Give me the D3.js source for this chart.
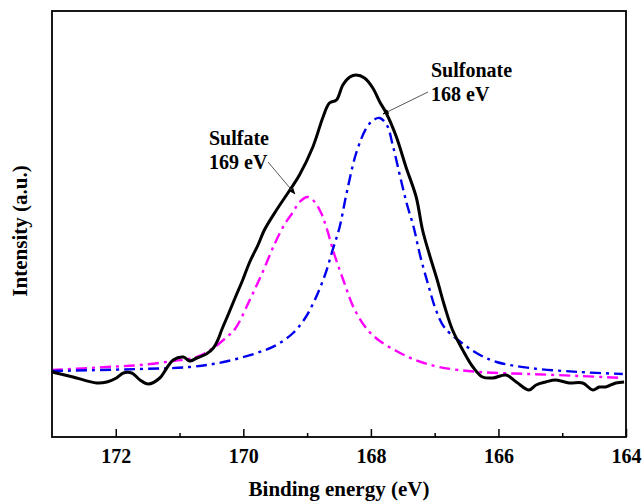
<!DOCTYPE html>
<html><head><meta charset="utf-8">
<script src="https://cdn.jsdelivr.net/npm/d3@7"></script>
<style>body{margin:0;background:#fff}svg{display:block}</style>
</head><body>
<script>
// Experimental spectrum (binding energy eV, intensity a.u.)
const expEnergy = [173.00,172.67,172.30,172.14,171.99,171.88,171.75,171.62,171.49,171.31,171.20,171.10,170.94,170.84,170.73,170.58,170.47,170.40,170.34,170.24,170.13,170.01,169.90,169.77,169.67,169.48,169.27,169.12,168.91,168.75,168.65,168.54,168.44,168.33,168.23,168.10,167.97,167.86,167.76,167.60,167.45,167.29,167.19,167.08,166.96,166.85,166.72,166.56,166.40,166.25,166.09,165.88,165.72,165.52,165.41,165.26,165.10,164.89,164.68,164.52,164.42,164.32,164.16,164.03];
const expIntensity = [64,59,53,54,58,63,63,56,52,58,68,76,79,75,78,82,88,96,106,121,138,156,174,191,206,226,246,261,289,319,333,336,351,359,361,358,348,334,323,299,269,239,206,181,156,131,106,86,69,59,58,61,54,46,51,54,56,53,53,46,49,49,53,54];
// Sulfate component (169 eV)
const sulfateEnergy = [173.00,172.14,171.62,171.10,170.73,170.47,170.26,170.13,169.90,169.71,169.51,169.35,169.22,169.12,168.99,168.88,168.78,168.70,168.57,168.41,168.26,168.05,167.86,167.60,167.34,166.93,166.30,165.52,164.73,164.05];
const sulfateIntensity = [66,69,71,75,79,88,99,107,136,162,192,212,224,234,239,234,223,209,181,152,127,106,95,85,77,69,64,62,60,58];
// Sulfonate component (168 eV)
const sulfonateEnergy = [173.00,171.62,170.84,170.31,169.79,169.48,169.22,169.03,168.88,168.72,168.60,168.49,168.38,168.23,168.07,167.96,167.86,167.75,167.65,167.54,167.44,167.33,167.23,167.10,166.98,166.84,166.55,166.29,166.03,165.51,164.73,164.05];
const sulfonateIntensity = [65,67,69,74,83,91,103,118,136,161,186,209,243,283,308,316,318,311,289,259,233,209,181,151,126,108,92,81,74,68,64,62];
const xTicks = [172,170,168,166,164];
const xMinorTicks = [171,169,167,165];

const W = 644, H = 501;
const svg = d3.select("body").append("svg").attr("width", W).attr("height", H);
const L = 52, R = 626, T = 11, B = 437;
const x = d3.scaleLinear().domain([173, 164]).range([L, R]);
const y = d3.scaleLinear().domain([-1, 425]).range([B, T]);

const font = "Liberation Serif, Times New Roman, serif";

const line = d3.line().x(d => x(d[0])).y(d => y(d[1])).curve(d3.curveCatmullRom.alpha(0.5));
const zip = (a, b) => a.map((v, i) => [v, b[i]]);

const g = svg.append("g");
g.append("path").datum(zip(sulfateEnergy, sulfateIntensity)).attr("d", line)
  .attr("fill", "none").attr("stroke", "#ff00ff").attr("stroke-width", 2.4)
  .attr("stroke-dasharray", "11,5,3,5");
g.append("path").datum(zip(sulfonateEnergy, sulfonateIntensity)).attr("d", line)
  .attr("fill", "none").attr("stroke", "#0000ee").attr("stroke-width", 2.4)
  .attr("stroke-dasharray", "11,5,3,5");
g.append("path").datum(zip(expEnergy, expIntensity)).attr("d", line)
  .attr("fill", "none").attr("stroke", "#000").attr("stroke-width", 3)
  .attr("stroke-linejoin", "round");

// frame
svg.append("rect").attr("x", L).attr("y", T).attr("width", R - L).attr("height", B - T)
  .attr("fill", "none").attr("stroke", "#000").attr("stroke-width", 1.8);

// x axis (ticks inward)
const xAxis = d3.axisTop(x).tickValues(xTicks).tickSize(8).tickFormat(d3.format("d"));
const ax = svg.append("g").attr("transform", `translate(0,${B})`).call(xAxis);
ax.select(".domain").remove();
ax.selectAll(".tick line").attr("stroke", "#000").attr("stroke-width", 1.5);
ax.selectAll(".tick text").attr("y", 26).attr("dy", 0)
  .attr("font-family", font).attr("font-weight", "bold").attr("font-size", 20).attr("fill", "#000");
const axm = svg.append("g").attr("transform", `translate(0,${B})`)
  .call(d3.axisTop(x).tickValues(xMinorTicks).tickSize(4).tickFormat(""));
axm.select(".domain").remove();
axm.selectAll(".tick line").attr("stroke", "#000").attr("stroke-width", 1.5);

// axis titles
svg.append("text").attr("x", 339).attr("y", 496).attr("text-anchor", "middle")
  .attr("font-family", font).attr("font-weight", "bold").attr("font-size", 21).text("Binding energy (eV)");
svg.append("text").attr("transform", "translate(27,231) rotate(-90)").attr("text-anchor", "middle")
  .attr("font-family", font).attr("font-weight", "bold").attr("font-size", 21).text("Intensity (a.u.)");

// annotations
const defs = svg.append("defs");
defs.append("marker").attr("id", "ah").attr("viewBox", "0 0 10 10").attr("refX", 9).attr("refY", 5)
  .attr("markerWidth", 7).attr("markerHeight", 7).attr("orient", "auto")
  .append("path").attr("d", "M0,1 L10,5 L0,9 Z").attr("fill", "#000");
const ann = [
  {lines: ["Sulfonate", "168 eV"], tx: 431, ty: 77, from: [428, 92], to: [383, 114]},
  {lines: ["Sulfate", "169 eV"], tx: 209, ty: 145, from: [268, 162], to: [295, 194]}
];
ann.forEach(a => {
  a.lines.forEach((s, i) => svg.append("text").attr("x", a.tx).attr("y", a.ty + i * 23.5)
    .attr("font-family", font).attr("font-weight", "bold").attr("font-size", 20).text(s));
  svg.append("line").attr("x1", a.from[0]).attr("y1", a.from[1]).attr("x2", a.to[0]).attr("y2", a.to[1])
    .attr("stroke", "#444").attr("stroke-width", 0.9).attr("marker-end", "url(#ah)");
});
</script>
</body></html>
